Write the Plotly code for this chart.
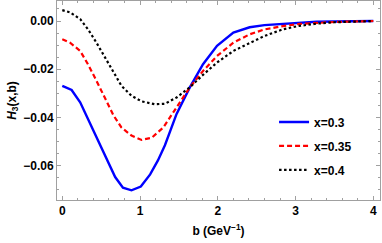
import plotly.graph_objects as go

b_03 = [0, 0.12, 0.23, 0.33, 0.46, 0.57, 0.68, 0.78, 0.89, 1.01, 1.13, 1.23, 1.32, 1.47, 1.64, 1.81, 1.99, 2.2, 2.41, 2.6, 2.84, 3.05, 3.27, 3.5, 3.75, 4.0]
h_03 = [-0.0269, -0.0286, -0.0337, -0.0406, -0.0496, -0.0578, -0.0647, -0.0691, -0.0702, -0.0686, -0.0636, -0.0578, -0.0515, -0.0385, -0.0275, -0.0179, -0.0103, -0.0048, -0.0026, -0.0017, -0.0011, -0.0006, -0.0003, -0.0002, -0.0001, 0.0]

b_035 = [0, 0.1, 0.23, 0.33, 0.44, 0.55, 0.66, 0.76, 0.89, 1.02, 1.15, 1.3, 1.47, 1.64, 1.81, 1.99, 2.2, 2.41, 2.6, 2.84, 3.05, 3.27, 3.5, 3.75, 4.0]
h_035 = [-0.0076, -0.009, -0.0124, -0.0179, -0.0248, -0.0323, -0.0392, -0.0441, -0.0475, -0.0493, -0.0484, -0.0441, -0.0358, -0.0275, -0.0207, -0.0145, -0.009, -0.0055, -0.0035, -0.0021, -0.0012, -0.0007, -0.0004, -0.0002, 0.0]

b_04 = [0, 0.1, 0.23, 0.33, 0.44, 0.55, 0.66, 0.76, 0.89, 1.02, 1.19, 1.32, 1.47, 1.64, 1.81, 1.99, 2.2, 2.41, 2.6, 2.84, 3.05, 3.27, 3.5, 3.7, 4.0]
h_04 = [0.0045, 0.0036, 0.0008, -0.0034, -0.009, -0.0152, -0.0213, -0.0268, -0.031, -0.0333, -0.0345, -0.0343, -0.0317, -0.0275, -0.0223, -0.0172, -0.0124, -0.009, -0.0062, -0.0034, -0.002, -0.0011, -0.0005, -0.0003, 0.0]

x_ticks = [0, 1, 2, 3, 4]
y_ticks = [0.0, -0.02, -0.04, -0.06]
y_ticktext = ["0.00", "\u22120.02", "\u22120.04", "\u22120.06"]

font_fam = "Liberation Sans, Arial, sans-serif"

fig = go.Figure()
fig.add_trace(go.Scatter(x=b_03, y=h_03, mode="lines", name="x=0.3", legendgroup="a",
                         line=dict(color="#0000FF", width=2.4)))
fig.add_trace(go.Scatter(x=b_035, y=h_035, mode="lines", name="x=0.35", legendgroup="b",
                         line=dict(color="#FF0000", width=2.2, dash="5px,3px")))
fig.add_trace(go.Scatter(x=b_04, y=h_04, mode="lines", name="x=0.4", legendgroup="c",
                         line=dict(color="#000000", width=2.2, dash="2.5px,2.5px")))

axis_common = dict(
    showline=True, linecolor="#A0A0A0", linewidth=1, mirror="allticks",
    ticks="inside", ticklen=4, tickcolor="#A0A0A0", tickwidth=1,
    showgrid=False, zeroline=False, automargin=False,
    tickfont=dict(family=font_fam, size=12, color="black", weight="bold"),
)

fig.update_xaxes(
    **axis_common,
    range=[-0.068, 4.086],
    tickvals=x_ticks,
    ticktext=[str(v) for v in x_ticks],
    minor=dict(ticks="inside", ticklen=2, tickcolor="#A0A0A0", dtick=0.2, tick0=0, showgrid=False),
    title=dict(text="b (GeV<sup>\u22121</sup>)", font=dict(family=font_fam, size=12, color="black", weight="bold"), standoff=9),
)
fig.update_yaxes(
    **axis_common,
    range=[-0.0742, 0.0083],
    tickvals=y_ticks,
    ticktext=y_ticktext,
    minor=dict(ticks="inside", ticklen=2, tickcolor="#A0A0A0", dtick=0.005, tick0=0, showgrid=False),
    title=dict(text="<i>H</i><sub>3</sub>(x,b)", font=dict(family=font_fam, size=12, color="black", weight="bold"), standoff=4),
)

fig.update_layout(
    width=382, height=243,
    margin=dict(l=57, r=2, t=1, b=43),
    plot_bgcolor="white", paper_bgcolor="white",
    showlegend=True,
    legend=dict(x=0.672, y=0.465, xanchor="left", yanchor="top",
                bgcolor="rgba(0,0,0,0)", tracegroupgap=5,
                font=dict(family=font_fam, size=12, color="black", weight="bold")),
)

fig.write_html("out.html", config={"displayModeBar": False},
               post_script="document.body.style.margin='0';document.body.style.overflow='hidden';")
